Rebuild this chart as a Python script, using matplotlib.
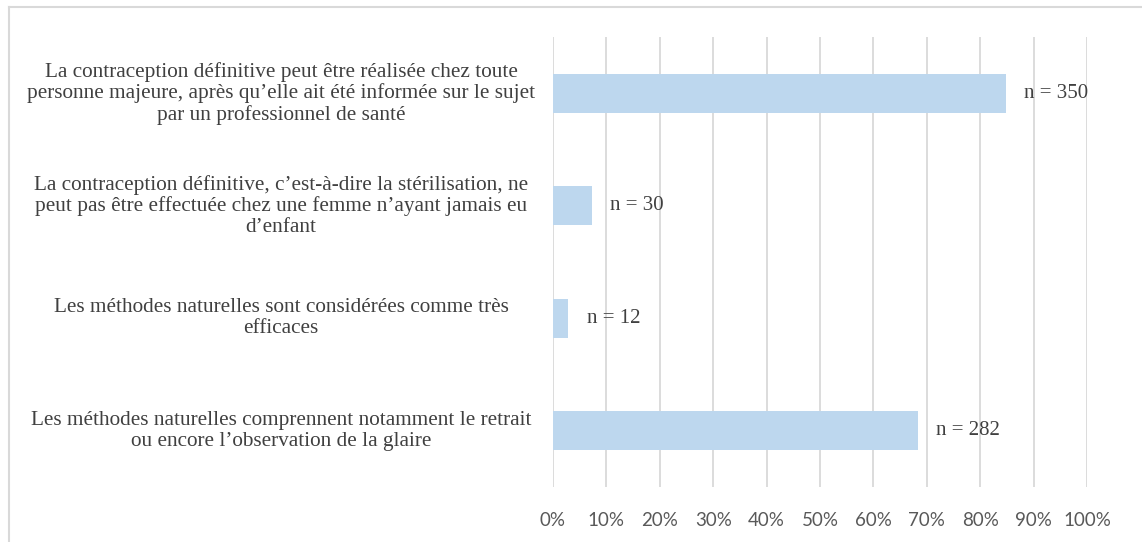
import matplotlib
matplotlib.use("Agg")
import matplotlib.pyplot as plt
from matplotlib.lines import Line2D
from matplotlib.transforms import blended_transform_factory

categories = [
    "La contraception définitive peut être réalisée chez toute\npersonne majeure, après qu’elle ait été informée sur le sujet\npar un professionnel de santé",
    "La contraception définitive, c’est-à-dire la stérilisation, ne\npeut pas être effectuée chez une femme n’ayant jamais eu\nd’enfant",
    "Les méthodes naturelles sont considérées comme très\nefficaces",
    "Les méthodes naturelles comprennent notamment le retrait\nou encore l’observation de la glaire",
]
percentages = [84.9, 7.3, 2.9, 68.4]
counts = [350, 30, 12, 282]
tick_values = [0, 10, 20, 30, 40, 50, 60, 70, 80, 90, 100]
tick_labels = [f"{v}%" for v in tick_values]

W, H = 1142, 542
fig = plt.figure(figsize=(W / 100, H / 100), dpi=100)
fig.patch.set_facecolor("white")

# axes placement in pixels
x0, x1 = 553, 1087
y0, y1 = 37, 487
ax = fig.add_axes([x0 / W, 1 - y1 / H, (x1 - x0) / W, (y1 - y0) / H])

ypos = list(range(len(categories)))
ax.barh(ypos, percentages, height=0.35, color="#BDD7EE", zorder=3)
ax.set_ylim(len(categories) - 0.5, -0.5)
ax.set_xlim(0, 100)

ax.set_xticks(tick_values)
ax.set_xticklabels(tick_labels, fontfamily="Lato", fontsize=13.5, color="#595959")
ax.tick_params(axis="x", length=0, pad=18)
ax.set_yticks(ypos)
ax.set_yticklabels([])
ax.tick_params(axis="y", length=0)
ax.grid(axis="x", color="#D9D9D9", linewidth=1.3, zorder=0)
for s in ax.spines.values():
    s.set_visible(False)

# category labels
trans = blended_transform_factory(fig.transFigure, ax.transData)
for y, lab in zip(ypos, categories):
    ax.text(281 / W, y, lab, transform=trans, ha="center", va="center",
            multialignment="center", fontfamily="Liberation Serif",
            fontsize=15.3, color="#404040", linespacing=1.12)

# data labels
for y, v, n in zip(ypos, percentages, counts):
    ax.annotate(f"n = {n}", xy=(v, y), xytext=(13, 0), textcoords="offset points",
                ha="left", va="center", fontfamily="Liberation Serif",
                fontsize=15, color="#404040", zorder=5)

# chart border (top and left visible)
fig.add_artist(Line2D([9 / W, 1], [1 - 7 / H, 1 - 7 / H], transform=fig.transFigure,
                      color="#D9D9D9", linewidth=1.5))
fig.add_artist(Line2D([9 / W, 9 / W], [0, 1 - 7 / H], transform=fig.transFigure,
                      color="#D9D9D9", linewidth=1.5))

fig.savefig("out.png", dpi=100, facecolor="white")
